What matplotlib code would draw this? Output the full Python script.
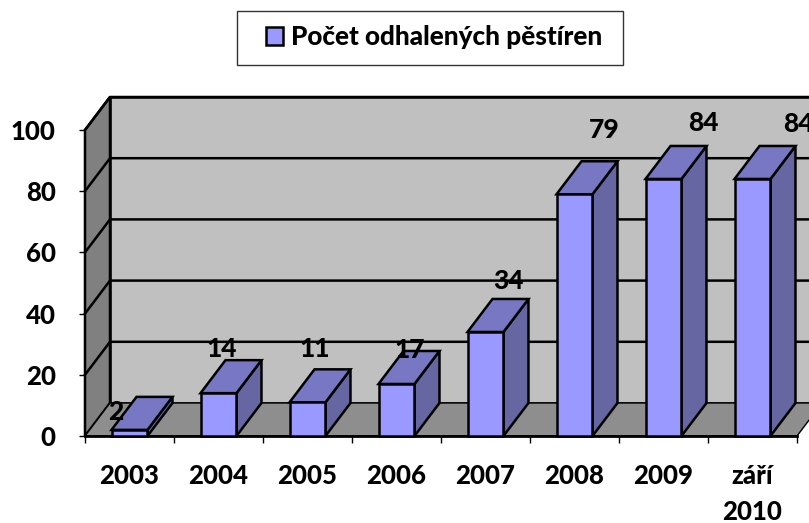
import matplotlib
matplotlib.use('Agg')
import matplotlib.pyplot as plt
from matplotlib.patches import Patch, Rectangle

plt.rcParams['font.family'] = ['Lato', 'DejaVu Sans']
plt.rcParams['font.weight'] = 'black'

categories = ['2003', '2004', '2005', '2006', '2007', '2008', '2009', 'září\n2010']
values = [2, 14, 11, 17, 34, 79, 84, 84]
y_ticks = [0, 20, 40, 60, 80, 100]
legend_label = 'Počet odhalených pěstíren'

# where Excel left the data labels, pixels from the front top edge of the bar
label_dx = [-14, 3, 7, 13, 23, 30, 40, 46]
label_dy = [18, 44, 53, 34, 51, 64, 56, 55]

# 3d look, depth in data units
depth_x = 25 / 89
depth_y = 33 / 3.06
bar_w = 0.404

fig = plt.figure(figsize=(8.09, 5.23), dpi=100)
ax = fig.add_axes([85 / 809, (523 - 436) / 523, 712 / 809, 306 / 523])
n = len(categories)
ax.set_xlim(0, n)
ax.set_ylim(0, 100)
for s in ax.spines.values():
    s.set_visible(False)
ax.patch.set_visible(False)

# walls and floor
ax.fill([depth_x, n + depth_x, n + depth_x, depth_x],
        [depth_y, depth_y, 100 + depth_y, 100 + depth_y],
        fc='#c0c0c0', ec='black', lw=1.8, clip_on=False, zorder=1)
ax.fill([0, depth_x, depth_x, 0], [0, depth_y, 100 + depth_y, 100],
        fc='#808080', ec='black', lw=1.8, clip_on=False, zorder=1)
ax.fill([0, n, n + depth_x, depth_x], [0, 0, depth_y, depth_y],
        fc='#8e8e8e', ec='black', lw=1, clip_on=False, zorder=1)

for t in y_ticks[1:]:
    ax.plot([0, depth_x, n + depth_x], [t, t + depth_y, t + depth_y],
            color='black', lw=1.8, clip_on=False, zorder=2)

for i, v in enumerate(values):
    x0 = i + 0.5 - bar_w / 2
    x1 = x0 + bar_w
    ax.fill([x1, x1 + depth_x, x1 + depth_x, x1], [0, depth_y, v + depth_y, v],
            fc='#6666a3', ec='black', lw=1.8, clip_on=False, zorder=3 + i)
    ax.fill([x0, x1, x1 + depth_x, x0 + depth_x], [v, v, v + depth_y, v + depth_y],
            fc='#7777c4', ec='black', lw=1.8, clip_on=False, zorder=3 + i)
    ax.fill([x0, x1, x1, x0], [0, 0, v, v],
            fc='#9999ff', ec='black', lw=1.8, clip_on=False, zorder=3 + i)
    ax.annotate(str(v), (i + 0.5, v), xytext=(label_dx[i], label_dy[i]),
                textcoords='offset pixels', ha='center', va='center',
                fontsize=19, annotation_clip=False, zorder=20)

ax.plot([0, n], [0, 0], color='black', lw=2, clip_on=False, zorder=2)

ax.set_yticks(y_ticks)
ax.tick_params(axis='y', length=4, width=1, labelsize=18.5, pad=17)
ax.set_xticks(range(n + 1))
ax.set_xticklabels([])
ax.set_xticks([i + 0.5 for i in range(n)], minor=True)
ax.set_xticklabels(categories, minor=True, fontsize=18.5, linespacing=1.6)
ax.tick_params(axis='x', which='major', length=5, width=1)
ax.tick_params(axis='x', which='minor', length=0, pad=20)

# frame drawn apart, the original box is wider than its padding would give
fig.add_artist(Rectangle((237 / 809, (523 - 65) / 523), 386 / 809, 54 / 523,
                         transform=fig.transFigure, fc='white', ec='#333333', lw=1))
leg = fig.legend(handles=[Patch(fc='#9999ff', ec='black', lw=1.8)], labels=[legend_label],
                 loc='center', bbox_to_anchor=(434 / 809, (523 - 37) / 523),
                 fontsize=18.8, handlelength=0.65, handleheight=0.65, handletextpad=0.28,
                 borderpad=0, borderaxespad=0, frameon=False)

fig.savefig('out.png', dpi=100)
